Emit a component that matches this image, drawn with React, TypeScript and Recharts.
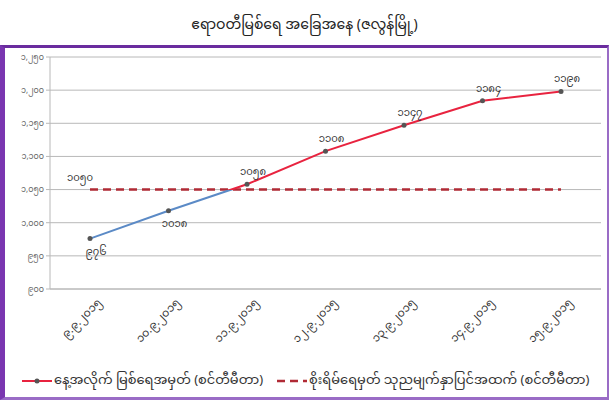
import React from "react";
import {
  LineChart,
  Line,
  XAxis,
  YAxis,
  CartesianGrid,
  LabelList,
  Legend,
} from "recharts";

const dates = [
  "၉.၉.၂၀၁၅",
  "၁၀.၉.၂၀၁၅",
  "၁၁.၉.၂၀၁၅",
  "၁၂.၉.၂၀၁၅",
  "၁၃.၉.၂၀၁၅",
  "၁၄.၉.၂၀၁၅",
  "၁၅.၉.၂၀၁၅",
];
const levels = [976, 1018, 1058, 1108, 1147, 1184, 1198];
const danger = [1050, 1050, 1050, 1050, 1050, 1050, 1050];
const yTicks = [900, 950, 1000, 1050, 1100, 1150, 1200, 1250];

const levelName = "နေ့အလိုက် မြစ်ရေအမှတ် (စင်တီမီတာ)";
const dangerName = "စိုးရိမ်ရေမှတ် သုညမျက်နှာပြင်အထက် (စင်တီမီတာ)";
const title = "ဧရာဝတီမြစ်ရေ အခြေအနေ (ဇလွန်မြို့)";

const data = dates.map((d, i) => ({ date: d, level: levels[i], danger: danger[i] }));

const myDigits = "၀၁၂၃၄၅၆၇၈၉";
const toMy = (n: number, comma = false) => {
  let s = String(n);
  if (comma && n >= 1000) s = s.slice(0, -3) + "," + s.slice(-3);
  return s.replace(/\d/g, (d) => myDigits[+d]);
};

// blue below the danger level, red above
const maxL = Math.max(...levels);
const minL = Math.min(...levels);
const splitAt = (maxL - danger[0]) / (maxL - minL);

const FONT = "'Noto Sans', 'Noto Sans Myanmar', Padauk, sans-serif";

const LevelLabel = (props: any) => {
  const { x, y, value, index } = props;
  const below = index < 2;
  return (
    <text
      x={x + 6}
      y={below ? y + 16 : y - 9}
      textAnchor="middle"
      fontSize={10}
      fill="#333"
      fontFamily={FONT}
    >
      {toMy(value)}
    </text>
  );
};

const DangerLabel = (props: any) => {
  const { x, y, value, index } = props;
  if (index !== 0) return null;
  return (
    <text x={x - 10} y={y - 9} textAnchor="middle" fontSize={10} fill="#333" fontFamily={FONT}>
      {toMy(value)}
    </text>
  );
};

const DateTick = (props: any) => {
  const { x, y, payload } = props;
  return (
    <g transform={`translate(${x + 12},${y + 6})`}>
      <text
        textAnchor="end"
        transform="rotate(-45)"
        fontSize={11}
        fill="#333"
        fontFamily={FONT}
      >
        {payload.value}
      </text>
    </g>
  );
};

const LegendBox = () => (
  <div
    style={{
      display: "flex",
      alignItems: "center",
      fontSize: 13,
      color: "#333",
      fontFamily: FONT,
      paddingLeft: 14,
      whiteSpace: "nowrap",
    }}
  >
    <svg width={30} height={10}>
      <line x1={0} y1={5} x2={30} y2={5} stroke="#e8233f" strokeWidth={2} />
      <circle cx={15} cy={5} r={2.5} fill="#555" />
    </svg>
    <span style={{ marginLeft: 2, marginRight: 14 }}>{levelName}</span>
    <svg width={30} height={10}>
      <line x1={0} y1={5} x2={30} y2={5} stroke="#b02a35" strokeWidth={2.5} strokeDasharray="8 5" />
    </svg>
    <span style={{ marginLeft: 2 }}>{dangerName}</span>
  </div>
);

export default function App() {
  return (
    <div
      style={{
        position: "absolute",
        top: 0,
        left: 0,
        width: 609,
        height: 400,
        background: "#fff",
        overflow: "hidden",
      }}
    >
      <div
        style={{
          position: "absolute",
          top: 10,
          left: 0,
          width: 609,
          textAlign: "center",
          fontSize: 14,
          fontFamily: FONT,
          color: "#222",
        }}
      >
        {title}
      </div>
      <div
        style={{
          position: "absolute",
          top: 45,
          left: 0,
          width: 609,
          height: 355,
          boxSizing: "border-box",
          borderTop: "3px solid #6a2c9e",
          borderLeft: "5px solid #7a36b0",
          borderRight: "2px solid #9a6cc6",
          borderBottom: "3px solid #9a6cc6",
        }}
      />
      <div style={{ position: "absolute", top: 0, left: 0 }}>
        <LineChart
          width={609}
          height={400}
          data={data}
          margin={{ top: 57, right: 8, left: 8, bottom: 9 }}
        >
          <defs>
            <linearGradient id="levelStroke" x1="0" y1="0" x2="0" y2="1">
              <stop offset={0} stopColor="#e8233f" />
              <stop offset={splitAt} stopColor="#e8233f" />
              <stop offset={splitAt} stopColor="#5b8ac6" />
              <stop offset={1} stopColor="#5b8ac6" />
            </linearGradient>
          </defs>
          <CartesianGrid vertical={false} stroke="#b8b8b8" />
          <XAxis
            dataKey="date"
            tick={<DateTick />}
            tickLine={false}
            axisLine={{ stroke: "#b8b8b8" }}
            height={78}
            interval={0}
            padding={{ left: 40, right: 40 }}
          />
          <YAxis
            domain={[900, 1250]}
            ticks={yTicks}
            tickFormatter={(v: number) => toMy(v, true)}
            tick={{ fontSize: 8, fill: "#666", fontFamily: FONT }}
            tickLine={{ stroke: "#b8b8b8" }}
            tickSize={4}
            axisLine={{ stroke: "#b8b8b8" }}
            width={42}
          />
          <Legend verticalAlign="bottom" content={<LegendBox />} height={24} />
          <Line
            dataKey="danger"
            name={dangerName}
            stroke="#b02a35"
            strokeWidth={2.5}
            strokeDasharray="8 5"
            dot={false}
            isAnimationActive={false}
          >
            <LabelList dataKey="danger" content={<DangerLabel />} />
          </Line>
          <Line
            dataKey="level"
            name={levelName}
            stroke="url(#levelStroke)"
            strokeWidth={2}
            dot={{ r: 2.5, fill: "#555", stroke: "#555", strokeWidth: 0 }}
            isAnimationActive={false}
          >
            <LabelList dataKey="level" content={<LevelLabel />} />
          </Line>
        </LineChart>
      </div>
    </div>
  );
}
